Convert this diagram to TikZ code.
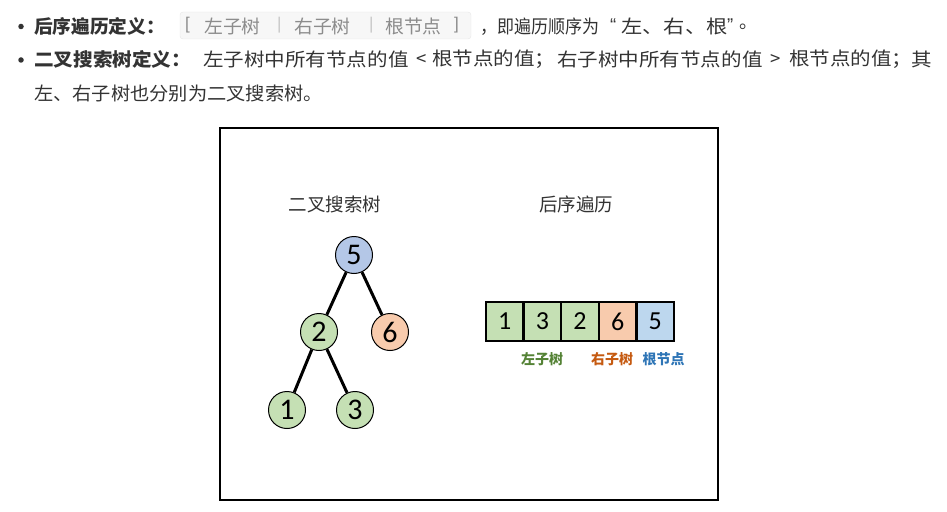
\documentclass[tikz,border=0pt]{standalone}
\usepackage{fontspec}
\usepackage{graphicx}
\setmainfont{Noto Sans CJK SC}
\newfontfamily\numfont{Carlito}
\newfontfamily\latfont{Liberation Sans}
\definecolor{tgreen}{HTML}{C5E0B4}
\definecolor{torange}{HTML}{F8CBAD}
\definecolor{tblue}{HTML}{B4C7E7}
\definecolor{ablue}{HTML}{BDD7EE}
\definecolor{lgreen}{HTML}{548235}
\definecolor{lorange}{HTML}{C55A11}
\definecolor{lblue}{HTML}{2E75B6}
\definecolor{txt}{HTML}{333333}
\definecolor{codebg}{HTML}{F7F7F7}
\definecolor{codebd}{HTML}{E6E6E6}
\definecolor{codetx}{HTML}{8C8C8C}
\definecolor{codebar}{HTML}{C8C8C8}
\newcommand{\sx}[2]{\scalebox{#1}[1]{#2}}
\begin{document}
\begin{tikzpicture}[x=1pt,y=-1pt,
  txtnode/.style={anchor=west,inner sep=0pt,text=txt,font=\fontsize{18.5}{21}\selectfont},
  boldtxt/.style={txtnode,font=\fontsize{18.5}{21}\selectfont\bfseries},
  codetxt/.style={anchor=west,inner sep=0pt,text=codetx,font=\fontsize{18.5}{21}\selectfont},
  bullet/.style={circle,fill=txt,inner sep=0pt,minimum size=5.5pt},
  tnode/.style={circle,draw=black,line width=1pt,minimum size=37pt,inner sep=0pt,font=\numfont\fontsize{30}{32}\selectfont},
  cell/.style={draw=black,line width=2.5pt,minimum width=37.6pt,minimum height=39pt,inner sep=0pt,font=\numfont\fontsize{26}{28}\selectfont},
  lbl/.style={inner sep=0pt,font=\fontsize{14}{16}\selectfont\bfseries},
  title/.style={inner sep=0pt,text=txt,font=\fontsize{18.5}{21}\selectfont},
  edge/.style={line width=3pt,black}]
\useasboundingbox (0,0) rectangle (947,511);
% line 1
\node[bullet] (b1) at (21,26.5) {};
\node[boldtxt] (t1) at (34,26.5) {\sx{1.01}{后序遍历定义：}};
\draw[fill=codebg,draw=codebd,rounded corners=3pt] (180,12) rectangle (471,39);
\node[codetxt,font=\latfont\fontsize{17}{20}\selectfont] (c0) at (185,25.5) {[};
\node[codetxt] (ca) at (204,26.5) {\sx{1.02}{左子树}};
\node[codetxt,text=codebar,font=\latfont\fontsize{17}{20}\selectfont] (cb) at (277,25.5) {|};
\node[codetxt] (cc) at (294,26.5) {\sx{1.02}{右子树}};
\node[codetxt,text=codebar,font=\latfont\fontsize{17}{20}\selectfont] (cd) at (369,25.5) {|};
\node[codetxt] (ce) at (385,26.5) {\sx{1.02}{根节点}};
\node[codetxt,font=\latfont\fontsize{17}{20}\selectfont] (cf) at (454,25.5) {]};
\node[txtnode] (t1b) at (480,26.5) {\sx{0.92}{，即遍历顺序为}};
\node[txtnode,font=\latfont\fontsize{18.5}{20}\selectfont] (q1) at (610,25) {“};
\node[txtnode] (t1c) at (621,26.5) {\sx{1.15}{左、右、根}};
\node[txtnode,font=\latfont\fontsize{18.5}{20}\selectfont] (q2) at (727,25) {”};
\node[txtnode] (t1d) at (739,26.5) {。};
% line 2
\node[bullet] (b2) at (21,60) {};
\node[boldtxt] (t2) at (34,59.5) {\sx{1.06}{二叉搜索树定义：}};
\node[txtnode] (t2a) at (203,59.5) {\sx{1.11}{左子树中所有节点的值}};
\node[txtnode] (t2b) at (416,59.5) {<};
\node[txtnode] (t2c) at (432,59.5) {\sx{1.11}{根节点的值；}};
\node[txtnode] (t2d) at (557,59.5) {\sx{1.11}{右子树中所有节点的值}};
\node[txtnode] (t2e) at (770,59.5) {>};
\node[txtnode] (t2f) at (789,59.5) {\sx{1.11}{根节点的值；}};
\node[txtnode] (t2g) at (911,59.5) {\sx{1.11}{其}};
% line 3
\node[txtnode] (t3) at (34,93.5) {\sx{1.04}{左、右子树也分别为二叉搜索树。}};
% frame
\draw[line width=1.5pt] (220,128) rectangle (718,500);
\node[title] (ttl1) at (335,204) {二叉搜索树};
\node[title] (ttl2) at (576,204) {后序遍历};
% tree
\node[tnode,fill=tblue] (n5) at (354,255) {5};
\node[tnode,fill=tgreen] (n2) at (319,332) {2};
\node[tnode,fill=torange] (n6) at (390,332) {6};
\node[tnode,fill=tgreen] (n1) at (287,410) {1};
\node[tnode,fill=tgreen] (n3) at (355,410) {3};
\draw[edge] (n5) -- (n2);
\draw[edge] (n5) -- (n6);
\draw[edge] (n2) -- (n1);
\draw[edge] (n2) -- (n3);
% array
\node[cell,fill=tgreen] (a1) at (504.8,321.5) {1};
\node[cell,fill=tgreen] (a2) at (542.4,321.5) {3};
\node[cell,fill=tgreen] (a3) at (580.0,321.5) {2};
\node[cell,fill=torange] (a4) at (617.6,321.5) {6};
\node[cell,fill=ablue] (a5) at (655.2,321.5) {5};
\node[lbl,text=lgreen] (l1) at (542,359) {左子树};
\node[lbl,text=lorange] (l2) at (612,359) {右子树};
\node[lbl,text=lblue] (l3) at (663.5,359) {根节点};
\end{tikzpicture}
\end{document}
